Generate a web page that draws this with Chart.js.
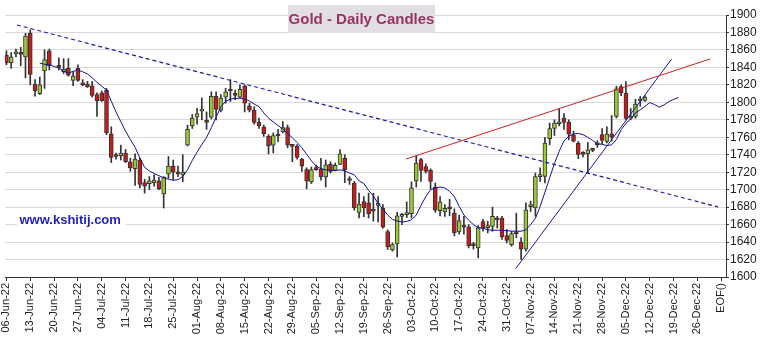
<!DOCTYPE html>
<html>
<head>
<meta charset="utf-8">
<script src="https://cdn.jsdelivr.net/npm/chart.js@4.4.1/dist/chart.umd.min.js"></script>
<style>
html,body{margin:0;padding:0;background:#ffffff;}
#wrap{width:763px;height:344px;position:relative;}
</style>
</head>
<body>
<div id="wrap"><canvas id="chart"></canvas></div>
<script>
// ---------- DATA ----------
const chartTitle = 'Gold - Daily Candles';
const siteLabel = 'www.kshitij.com';

// trading days (x index = position in this list)
const dates = [
 '06-Jun','07-Jun','08-Jun','09-Jun','10-Jun','13-Jun','14-Jun','15-Jun','16-Jun','17-Jun',
 '20-Jun','21-Jun','22-Jun','23-Jun','24-Jun','27-Jun','28-Jun','29-Jun','30-Jun','01-Jul',
 '04-Jul','05-Jul','06-Jul','07-Jul','08-Jul','11-Jul','12-Jul','13-Jul','14-Jul','15-Jul',
 '18-Jul','19-Jul','20-Jul','21-Jul','22-Jul','25-Jul','26-Jul','27-Jul','28-Jul','29-Jul',
 '01-Aug','02-Aug','03-Aug','04-Aug','05-Aug','08-Aug','09-Aug','10-Aug','11-Aug','12-Aug',
 '15-Aug','16-Aug','17-Aug','18-Aug','19-Aug','22-Aug','23-Aug','24-Aug','25-Aug','26-Aug',
 '29-Aug','30-Aug','31-Aug','01-Sep','02-Sep','05-Sep','06-Sep','07-Sep','08-Sep','09-Sep',
 '12-Sep','13-Sep','14-Sep','15-Sep','16-Sep','19-Sep','20-Sep','21-Sep','22-Sep','23-Sep',
 '26-Sep','27-Sep','28-Sep','29-Sep','30-Sep','03-Oct','04-Oct','05-Oct','06-Oct','07-Oct',
 '10-Oct','11-Oct','12-Oct','13-Oct','14-Oct','17-Oct','18-Oct','19-Oct','20-Oct','21-Oct',
 '24-Oct','25-Oct','26-Oct','27-Oct','28-Oct','31-Oct','01-Nov','02-Nov','03-Nov','04-Nov',
 '07-Nov','08-Nov','09-Nov','10-Nov','11-Nov','14-Nov','15-Nov','16-Nov','17-Nov','18-Nov',
 '21-Nov','22-Nov','23-Nov','24-Nov','25-Nov','28-Nov','29-Nov','30-Nov','01-Dec','02-Dec',
 '05-Dec','06-Dec','07-Dec','08-Dec','09-Dec'
];

const open = [
 1854,1845,1855.5,1856,1852, 1879,1821,1810,1836,1859, null,1841,1835,1839,1825,
 1839,1821,1821,1819,1809, 1811,1814,1764,1739,1739, 1742,1732,1724,1734,1708,
 1707,1708,1710,1695,1718, 1727,1719,1717,1751,1773, 1783,1790,1778,1783,1807,
 1791,1806,1813.5,1809,1806, 1819,1796,1791,1777,1772, 1761,1751,1762.5,1766,1771,
 1750,1750,1735,1723,1709, 1723.5,1723.5,1714.5,1729,1722, 1729,1736,1711,1707.6,1674,
 1686.5,1685,1676,1682,1679, 1652,1631,1638,1669.5,1671.5, 1672.5,1710,1734.5,1726.5,1722,
 1703,1676,1674.5,1680,1673.3, 1651.5,1657.5,1657.5,1636.5,1633.3, 1663.5,1656.5,1658,1666,1667.6,
 1647.4,1637,1650,1640,1632, 1680.5,1679,1715,1715.2,1758.5, 1770,1775.5,1782,1777.3,1762.5,
 1753,1741,1741,1745.5,1751.4, 1763,1755.2,1764,1784,1818, 1810.5,1782,1784,1801.5,1802.1
];
const high = [
 1859,1857,1861,1863,1879, 1883,1826,1829,1860,1861, null,1851,1850,1850,1835,
 1843,1826,1824,1824,1811, 1813,1816,1772,1742,1751, 1746,1736,1741,1736,1712,
 1715,1717,1714,1715,1738, 1734,1727,1740,1774,1786, 1793,1805,1789,1812,1812,
 1809,1816,1826,1814,1820, 1820,1799,1795,1782,1774, 1763,1765,1769,1778,1774,
 1751.5,1751.5,1736,1725,1726, 1728,1736,1734,1732,1730.5, 1746,1740,1715,1709.5,1696,
 1692,1696,1696,1692,1683, 1654,1639,1674,1673,1686, 1709,1739,1736,1729.5,1724,
 1707.6,1692,1683,1689,1678, 1671,1669.5,1660,1639.5,1658.9, 1666,1664,1680,1669.5,1669.5,
 1654.3,1652.4,1673,1645,1685, 1687,1719,1725,1760,1776.2, 1780,1793,1787,1780,1767,
 1755.2,1743.5,1754,1747.5,1756, 1770,1772,1785,1818.5,1820, 1823.8,1793,1803.6,1806.7,1807.8
];
const low = [
 1843,1839,1852,1842,1828, 1820,1807,1809,1816,1837, null,1837,1833,1830,1819,
 1824,1819,1817,1806,1784, 1801,1763,1731,1735,1734, 1731,1721,1705,1702,1696,
 1700,1704,1700,1679,1713, 1711,1715,1709,1750,1770, 1775,1780,1769,1781,1780,
 1789,1799,1801,1803,1805, 1789,1789,1775,1770,1761, 1741,1742,1755,1765,1748,
 1732,1735,1721,1701,1707, 1722,1711,1703,1719,1721.5, 1728.5,1708,1706,1676.5,1667.6,
 1669,1667.6,1664,1663,1656, 1631.4,1629.5,1623,1660,1668, 1667.6,1703,1709.5,1719,1701,
 1674,1670,1669.5,1670,1647, 1649,1649,1633.3,1632,1621.9, 1652.4,1650.5,1652.4,1656,1643,
 1639,1635.2,1645,1620,1629.5, 1675,1669.5,1709.5,1707.6,1751.4, 1762,1773,1769,1757,1754.5,
 1735.5,1737.5,1719,1743.5,1748.4, 1752.5,1753.5,1755.5,1782,1807.5, 1780,1780,1781.9,1795.5,1801
];
const close = [
 1845,1852,1856.5,1855,1876, 1832,1813,1820,1849,1842, null,1840,1838,1831,1830,
 1825,1820,1818,1808,1802, 1802,1765,1737,1738,1742, 1732,1725,1735,1706,1704,
 1710,1711,1701,1714,1727, 1720,1718,1720,1769,1782, 1787,1791,1777,1807,1792,
 1805,1812,1813,1808,1815, 1799,1791,1777,1773,1764, 1750,1762,1761.5,1771,1751,
 1749.5,1737,1727,1710,1723, 1723,1714.5,1728.5,1721,1728, 1741,1723,1710.5,1679,1683.6,
 1679,1672.6,1675.5,1682.5,1657, 1634.5,1637,1670,1670,1672, 1702,1730.5,1722,1721,1709.5,
 1676.5,1686,1678.5,1678,1650.5, 1664.6,1657,1636,1636,1656.2, 1655.6,1659,1669.5,1665.5,1646,
 1642,1649.7,1649.5,1632,1677, 1681,1715,1715.5,1753.3,1770, 1776.2,1776,1777,1763.6,1755.5,
 1740.5,1740.5,1745.7,1745,1751.6, 1756.5,1763.6,1760,1815.5,1811, 1781.5,1783,1797.9,1801.8,1805.9
];

// moving average, starting at day index maStart (runs a few days past the last candle)
const maStart = 7;
const maValues = [
 1845,1843.5,1843,1841,1839.5,1835.5,1833.5,1835.5,1837,1835,
 1832.5,1828,1823,1818.5,1814,1801.3,1788.9,1777.8,1767,1757.5,
 1748.4,1736.2,1725.5,1721.4,1718.5,1716,1713.5,1712,1710.7,1711.5,
 1715,1722.8,1733.5,1743,1751.7,1759.8,1771,1783,1795,1801,
 1803.7,1804.5,1804.8,1804,1801.5,1798,1795,1788,1782,1777.5,
 1773.5,1769.5,1764.5,1759.5,1754,1748,1740.5,1733,1727,1724,
 1722.8,1722.3,1722,1722.6,1721.5,1719,1717,1710,1707,1699,
 1693,1684,1678,1671,1666,1664,1663,1663.5,1665.5,1671,
 1682,1692,1700,1702,1703,1702,1698,1692,1681,1671,
 1665,1660,1656.5,1656,1654,1653.5,1653.5,1653.5,1653,1652.5,
 1652.4,1652.4,1654,1660,1667,1681,1697,1713.6,1730,1744,
 1755.8,1761.2,1763.8,1764.3,1763,1760,1756.5,1752.5,1752,1750.5,
 1751.4,1757.4,1768.6,1776,1781,1788,1791.4,1795.3,1799.8,1797.5,
 1794.4,1797,1800.8,1803.4,1805.5
];

// trend lines: [dayIndex, price] end points
const fallingTrend = [[2.2, 1888.6], [149.3, 1680.3]];
const risingResistance = [[83.8, 1735], [147.7, 1849.7]];
const risingSupport = [[106.9, 1609.7], [139.6, 1849.7]];

// weekly tick labels (one every 5 trading days)
const tickLabels = [
 '06-Jun-22','13-Jun-22','20-Jun-22','27-Jun-22','04-Jul-22','11-Jul-22','18-Jul-22','25-Jul-22',
 '01-Aug-22','08-Aug-22','15-Aug-22','22-Aug-22','29-Aug-22','05-Sep-22','12-Sep-22','19-Sep-22',
 '26-Sep-22','03-Oct-22','10-Oct-22','17-Oct-22','24-Oct-22','31-Oct-22','07-Nov-22','14-Nov-22',
 '21-Nov-22','28-Nov-22','05-Dec-22','12-Dec-22','19-Dec-22','26-Dec-22','EOF()'
];
const yTicks = { min: 1600, max: 1900, step: 20 };

// ---------- BUILD ----------
const FONT = '"Liberation Sans", Arial, Helvetica, sans-serif';
Chart.defaults.font.family = FONT;
const UP = '#99cc33', DOWN = '#cc1a1a', EDGE = '#333333';

const wickData = [], bodyData = [], bodyColors = [];
dates.forEach((d, i) => {
  if (open[i] == null) return;
  wickData.push({ x: i, y: [low[i], high[i]] });
  bodyData.push({ x: i, y: [open[i], close[i]] });
  bodyColors.push(close[i] >= open[i] ? UP : DOWN);
});
const maData = maValues.map((v, k) => ({ x: maStart + k, y: v }));
const toPts = arr => arr.map(p => ({ x: p[0], y: p[1] }));

const decor = {
  id: 'decor',
  afterDraw(chart) {
    const c = chart.ctx;
    c.save();
    c.fillStyle = '#e1dfe1';
    c.fillRect(288, 5, 147, 28);
    c.fillStyle = '#993366';
    c.font = 'bold 15px ' + FONT;
    c.textAlign = 'center';
    c.textBaseline = 'middle';
    c.fillText(chartTitle, 361.5, 19.5);
    c.fillStyle = '#ffffff';
    c.fillRect(17, 212, 109, 17);
    c.fillStyle = '#1f1fc4';
    c.font = 'bold 13px ' + FONT;
    c.textAlign = 'left';
    c.fillText(siteLabel, 19.5, 220.5);
    c.restore();
  }
};

new Chart(document.getElementById('chart'), {
  type: 'bar',
  data: {
    datasets: [
      { type: 'line', label: 'Resistance', data: toPts(risingResistance), borderColor: '#cc2222', borderWidth: 1, pointRadius: 0, order: 1 },
      { type: 'line', label: 'Support', data: toPts(risingSupport), borderColor: '#1a1aa8', borderWidth: 1, pointRadius: 0, order: 1 },
      { type: 'line', label: 'Falling trend', data: toPts(fallingTrend), borderColor: '#1a1aa8', borderWidth: 1.2, borderDash: [4, 3], pointRadius: 0, order: 1 },
      { type: 'line', label: 'Moving average', data: maData, borderColor: '#12129a', borderWidth: 1, pointRadius: 0, tension: 0, order: 2 },
      { label: 'Body', data: bodyData, backgroundColor: bodyColors, borderColor: EDGE, borderWidth: 1, borderSkipped: false,
        barThickness: 4, minBarLength: 2, grouped: false, order: 3 },
      { label: 'Wick', data: wickData, backgroundColor: EDGE, borderWidth: 0, barThickness: 1, grouped: false, order: 4 }
    ]
  },
  options: {
    responsive: true,
    maintainAspectRatio: false,
    animation: false,
    layout: { padding: { left: 5, top: 15, right: 0, bottom: 0 } },
    plugins: { legend: { display: false }, tooltip: { enabled: false }, title: { display: false } },
    scales: {
      x: {
        type: 'linear', position: 'bottom', min: -0.3, max: 151, offset: false,
        grid: { display: true, drawOnChartArea: false, drawTicks: true, tickLength: 4, tickColor: EDGE, offset: false },
        border: { display: true, color: EDGE, width: 1 },
        ticks: {
          stepSize: 5, autoSkip: false, includeBounds: false, maxRotation: 90, minRotation: 90,
          padding: 2, color: '#222', font: { size: 11, family: FONT },
          callback: v => { const k = Math.round(v / 5); return (Math.abs(v - k * 5) < 1e-6 && tickLabels[k]) ? tickLabels[k] : ''; }
        },
        afterFit: s => { s.height = 67; s.paddingLeft = 0; s.paddingRight = 0; }
      },
      y: {
        type: 'linear', position: 'right', min: yTicks.min, max: yTicks.max,
        grid: { color: '#d9d9d9', tickColor: EDGE, tickLength: 3, drawTicks: true },
        border: { display: true, color: EDGE, width: 1 },
        ticks: { stepSize: yTicks.step, padding: 1, color: '#222', font: { size: 12, family: FONT },
          callback: v => String(v) },
        afterFit: s => { s.width = 37; s.paddingTop = 0; s.paddingBottom = 0; }
      }
    }
  },
  plugins: [decor]
});
</script>
</body>
</html>
